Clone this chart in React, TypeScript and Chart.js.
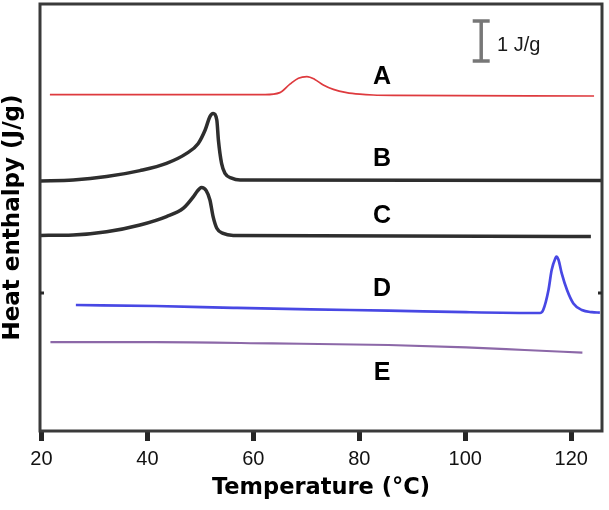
import React, { useEffect, useRef } from 'react';
import { Chart, registerables } from 'chart.js';

Chart.register(...registerables);

// ---- Data (Temperature °C, Heat enthalpy J/g, arbitrary offset) ----
const xTickValues = [20, 40, 60, 80, 100, 120];
const yMinorTickValues = [3.45];

const tempA = [21.6, 62.2, 65.0, 66.9, 68.5, 70.1, 71.6, 73.2, 75.1, 77.6, 80.1, 82.6, 86.4, 124.3];
const heatA = [8.41, 8.41, 8.46, 8.67, 8.82, 8.86, 8.79, 8.65, 8.54, 8.46, 8.42, 8.40, 8.39, 8.375];

const tempB = [19.7, 26.0, 32.3, 38.6, 43.6, 47.4, 49.6, 50.9, 51.8, 52.4, 53.1, 53.4, 54.0, 54.65, 55.9, 57.5, 125.8];
const heatB = [6.25, 6.275, 6.36, 6.51, 6.69, 6.94, 7.19, 7.525, 7.86, 7.94, 7.775, 7.275, 6.69, 6.44, 6.32, 6.275, 6.26];

const tempC = [19.7, 26.0, 32.3, 38.6, 43.6, 46.8, 48.7, 49.3, 50.2, 51.1, 51.8, 52.4, 53.1, 54.3, 56.2, 123.7];
const heatC = [4.89, 4.90, 4.98, 5.15, 5.36, 5.57, 5.86, 5.975, 6.09, 6.01, 5.775, 5.36, 5.07, 4.94, 4.89, 4.86];

const tempD = [26.5, 41.5, 56.2, 70.8, 85.5, 100.15, 114.1, 114.7, 115.7, 116.3, 117.0, 117.2, 117.6, 118.2, 119.2, 120.4, 122.0, 123.9, 125.4];
const heatD = [3.15, 3.125, 3.08, 3.04, 3.01, 2.97, 2.95, 3.025, 3.525, 4.025, 4.32, 4.36, 4.275, 3.94, 3.525, 3.19, 3.025, 2.97, 2.96];

const tempE = [21.7, 41.5, 63.5, 85.5, 100.15, 111.2, 122.1];
const heatE = [2.22, 2.22, 2.19, 2.15, 2.09, 2.025, 1.96];

// scale bar (1 J/g)
const barTemp = [103.0, 103.0];
const barHeat = [9.25, 10.25];
const barLabel = '1 J/g';
const barLabelTemp = 106.0;
const barLabelHeat = 9.65;

// curve labels
const curveNames = ['A', 'B', 'C', 'D', 'E'];
const curveLabelTemp = [84.3, 84.3, 84.3, 84.3, 84.3];
const curveLabelHeat = [8.85, 6.8, 5.375, 3.55, 1.45];

const xMin = 19.73;
const xMax = 125.8;
const yMin = 0;
const yMax = 10.675;

const zip = (xs: number[], ys: number[]) => xs.map((x, i) => ({ x, y: ys[i] }));

const SANS = "'Liberation Sans', Arial, sans-serif";
const WIDE = "'DejaVu Sans', sans-serif";

const overlayPlugin = {
  id: 'overlay',
  afterDraw(chart: any) {
    const { ctx, chartArea, scales } = chart;
    const xs = scales.x;
    const ys = scales.y;
    ctx.save();
    // frame
    ctx.strokeStyle = '#3a3a3a';
    ctx.lineWidth = 3;
    ctx.strokeRect(chartArea.left, chartArea.top, chartArea.right - chartArea.left, chartArea.bottom - chartArea.top);
    // small inner tick marks on left and right borders
    ctx.lineWidth = 3;
    ctx.strokeStyle = '#2a2a2a';
    yMinorTickValues.forEach((v) => {
      const py = ys.getPixelForValue(v);
      ctx.beginPath();
      ctx.moveTo(chartArea.left, py);
      ctx.lineTo(chartArea.left + 4, py);
      ctx.moveTo(chartArea.right, py);
      ctx.lineTo(chartArea.right - 4, py);
      ctx.stroke();
    });
    // curve labels
    ctx.fillStyle = '#000';
    ctx.font = `bold 25px ${SANS}`;
    ctx.textAlign = 'center';
    ctx.textBaseline = 'middle';
    curveNames.forEach((n, i) => {
      ctx.fillText(n, xs.getPixelForValue(curveLabelTemp[i]), ys.getPixelForValue(curveLabelHeat[i]));
    });
    // scale bar label
    ctx.font = `20px ${SANS}`;
    ctx.fillStyle = '#1a1a1a';
    ctx.textAlign = 'left';
    ctx.fillText(barLabel, xs.getPixelForValue(barLabelTemp), ys.getPixelForValue(barLabelHeat));
    ctx.restore();
  },
};

export default function App() {
  const canvasRef = useRef<HTMLCanvasElement | null>(null);

  useEffect(() => {
    if (!canvasRef.current) return;
    const line = (data: any, color: string, width: number) => ({
      data,
      borderColor: color,
      borderWidth: width,
      pointRadius: 0,
      fill: false,
      cubicInterpolationMode: 'monotone' as const,
    });
    const chart = new Chart(canvasRef.current, {
      type: 'line',
      data: {
        datasets: [
          line(zip(tempA, heatA), '#de3a3e', 1.7),
          line(zip(tempB, heatB), '#2e2e2e', 3.5),
          line(zip(tempC, heatC), '#2e2e2e', 3.5),
          line(zip(tempD, heatD), '#4848e4', 2.7),
          line(zip(tempE, heatE), '#8c68a8', 2.2),
          {
            data: zip(barTemp, barHeat),
            borderColor: '#777',
            borderWidth: 3.5,
            tension: 0,
            pointStyle: 'line',
            pointRadius: 8.5,
            pointBorderWidth: 3.5,
            pointBorderColor: '#777',
            pointBackgroundColor: '#777',
          } as any,
        ],
      },
      options: {
        animation: false,
        responsive: true,
        maintainAspectRatio: false,
        parsing: false as any,
        layout: { autoPadding: false, padding: { left: 0, right: 7, top: 4, bottom: 0 } },
        plugins: {
          legend: { display: false },
          tooltip: { enabled: false },
          title: { display: false },
        },
        scales: {
          x: {
            type: 'linear',
            min: xMin,
            max: xMax,
            afterFit: (s: any) => { s.height = 79; },
            afterBuildTicks: (s: any) => { s.ticks = xTickValues.map((v) => ({ value: v })); },
            border: { display: false },
            grid: {
              display: true,
              drawOnChartArea: false,
              drawTicks: true,
              tickLength: 10,
              tickWidth: 5,
              tickColor: '#262626',
            },
            ticks: {
              color: '#111',
              padding: 6,
              font: { family: SANS, size: 20 },
              maxRotation: 0,
              callback: (v: any) => String(v),
            },
            title: {
              display: true,
              text: 'Temperature (°C)',
              color: '#000',
              font: { family: WIDE, size: 22.5, weight: 'bold', lineHeight: 1.2 },
              padding: { top: 0, bottom: 8 },
            },
          },
          y: {
            type: 'linear',
            min: yMin,
            max: yMax,
            afterFit: (s: any) => { s.width = 40; },
            border: { display: false },
            grid: { display: false, drawTicks: false },
            ticks: { display: false },
            title: {
              display: true,
              text: 'Heat enthalpy (J/g)',
              color: '#000',
              font: { family: WIDE, size: 23, weight: 'bold', lineHeight: 1.13 },
              padding: { top: 0, bottom: 0 },
            },
          },
        },
      },
      plugins: [overlayPlugin],
    });
    return () => chart.destroy();
  }, []);

  return (
    <div style={{ position: 'fixed', left: 0, top: 0, width: 609, height: 510, background: '#fff' }}>
      <canvas ref={canvasRef} />
    </div>
  );
}
